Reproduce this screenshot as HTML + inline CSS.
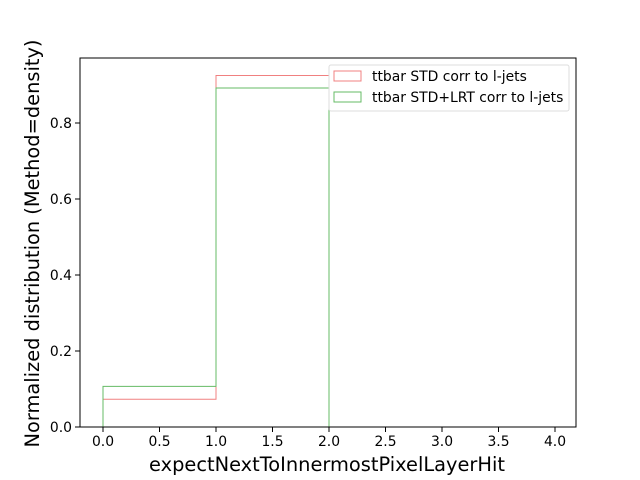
<!DOCTYPE html>
<html><head><meta charset="utf-8"><style>body{margin:0;background:#fff}svg{display:block;font-family:"DejaVu Sans","Liberation Sans",sans-serif}</style></head>
<body>
<svg id="c" width="640" height="480"></svg>
<script>
const binEdges=[0,1,2,3,4];
const stdValues=[0.073,0.925,0,0];
const lrtValues=[0.107,0.892,0,0];
const xTicks=[0,0.5,1,1.5,2,2.5,3,3.5,4];
const yTicks=[0,0.2,0.4,0.6,0.8];
const seriesNames=["ttbar STD corr to l-jets","ttbar STD+LRT corr to l-jets"];
const NS="http://www.w3.org/2000/svg";
const svg=document.getElementById('c');
const L=80,R=576,T=58,B=427;
const x=v=>103+v*113;
const y=v=>427-v*380;
function mk(t,a,p){const e=document.createElementNS(NS,t);for(const k in a)e.setAttribute(k,a[k]);(p||svg).appendChild(e);return e;}
function step(vals,color,name){
  let d=`M${x(binEdges[0])},${y(0)}`;
  vals.forEach((v,i)=>{d+=` L${x(binEdges[i])},${y(v)} L${x(binEdges[i+1])},${y(v)}`;});
  d+=` L${x(binEdges[binEdges.length-1])},${y(0)}`;
  const p=mk('path',{d:d,fill:'none',stroke:color,'stroke-width':1});
  
  
}
step(stdValues,'#f08080','series-std');
step(lrtValues,'#66bb66','series-std-lrt');
const fr=mk('rect',{x:L,y:T,width:R-L,height:B-T,fill:'none',stroke:'#000','stroke-width':1});


xTicks.forEach(v=>{
  mk('line',{x1:x(v),x2:x(v),y1:B,y2:B+5,stroke:'#000'});
  const t=mk('text',{x:x(v),y:B+19,'text-anchor':'middle','font-size':13.9});
  t.textContent=v.toFixed(1);
  
  
});
yTicks.forEach(v=>{
  mk('line',{x1:L-5,x2:L,y1:y(v),y2:y(v),stroke:'#000'});
  const t=mk('text',{x:L-8,y:y(v)+5,'text-anchor':'end','font-size':13.9});
  t.textContent=v.toFixed(1);
  
  
});
const xt=mk('text',{x:(L+R)/2-1,y:471,'text-anchor':'middle','font-size':19.4});
xt.textContent='expectNextToInnermostPixelLayerHit';


const yt=mk('text',{x:0,y:0,'text-anchor':'middle','font-size':19.4,transform:`translate(39,${(T+B)/2+1}) rotate(-90)`});
yt.textContent='Normalized distribution (Method=density)';


const lg=mk('g',{});


mk('rect',{x:329,y:65,width:240,height:46,rx:2,fill:'#fff','fill-opacity':0.85,stroke:'#ddd'},lg);
const cols=['#f08080','#66bb66'];
seriesNames.forEach((n,i)=>{
  const yy=76+i*21;
  const sw=mk('rect',{x:334,y:yy-5,width:27,height:10,fill:'none',stroke:cols[i]},lg);
  
  
  const t=mk('text',{x:372,y:yy+5,'font-size':13.9},lg);
  t.textContent=n;
  
  
});
</script>
</body></html>
